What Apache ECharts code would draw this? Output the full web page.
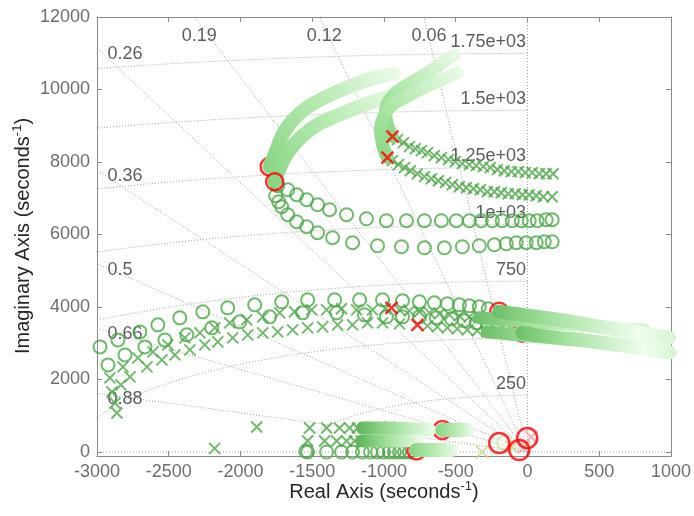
<!DOCTYPE html>
<html><head><meta charset="utf-8">
<script src="https://cdn.jsdelivr.net/npm/echarts@6/dist/echarts.min.js"></script>
<style>html,body{margin:0;padding:0;background:#fff}#c{width:694px;height:516px}</style>
</head><body><div id="c"></div>
<script>
// ---------- axes / grid annotations ----------
const xTicks = [-3000, -2500, -2000, -1500, -1000, -500, 0, 500, 1000];
const yTicks = [0, 2000, 4000, 6000, 8000, 10000, 12000];
const xTitle = ['Real Axis (seconds', '-1', ')'];
const yTitle = ['Imaginary Axis (seconds', '-1', ')'];
const dampingRatios = [0.06, 0.12, 0.19, 0.26, 0.36, 0.5, 0.66, 0.88];
const dampingLabels = ['0.06', '0.12', '0.19', '0.26', '0.36', '0.5', '0.66', '0.88'];
const freqHz = [250, 500, 750, 1000, 1250, 1500, 1750];
const freqLabels = ['250', '', '750', '1e+03', '1.25e+03', '1.5e+03', '1.75e+03'];

// ---------- upper branches ----------
const upperCircleRow1 = [[-1741,7347],[-1671,7236],[-1609,7098],[-1539,6960],[-1463,6822],[-1379,6684],[-1261,6546],[-1122,6435],[-983,6380],[-843,6380],[-718,6380],[-600,6380],[-496,6380],[-405,6380],[-322,6380],[-245,6380],[-176,6380],[-106,6380],[-43,6380],[12,6380],[68,6380],[130,6408],[172,6408]];
const upperCircleRow2 = [[-1755,7071],[-1734,6905],[-1713,6767],[-1671,6546],[-1609,6353],[-1539,6215],[-1463,6049],[-1358,5911],[-1219,5773],[-1045,5690],[-878,5662],[-718,5634],[-579,5634],[-454,5662],[-336,5690],[-231,5717],[-148,5745],[-78,5773],[-9,5773],[61,5773],[117,5800],[172,5800]];
const upperCircleTube1 = [[-1797,7872],[-1762,8203],[-1713,8700],[-1644,9115],[-1539,9501],[-1400,9805],[-1240,10081],[-1080,10302],[-927,10440]];
const upperCircleTube2 = [[-1762,7457],[-1741,7706],[-1671,8258],[-1574,8700],[-1463,9032],[-1310,9308],[-1136,9584],[-976,9805],[-892,9971]];
const upperCrossRow1 = [[-906,8617],[-864,8535],[-823,8424],[-781,8369],[-739,8314],[-697,8258],[-649,8176],[-600,8120],[-551,8065],[-503,8010],[-454,7955],[-405,7927],[-357,7899],[-308,7872],[-259,7844],[-210,7789],[-162,7761],[-113,7734],[-64,7734],[-16,7706],[33,7706],[82,7678],[130,7678],[179,7678]];
const upperCrossRow2 = [[-941,8037],[-899,7927],[-857,7844],[-816,7761],[-767,7678],[-718,7596],[-670,7540],[-621,7485],[-572,7430],[-524,7375],[-475,7319],[-426,7292],[-377,7264],[-329,7236],[-280,7181],[-231,7181],[-183,7154],[-134,7126],[-85,7126],[-36,7098],[12,7098],[61,7071],[110,7043],[172,7043]];
const upperCrossTube1 = [[-941,8700],[-976,9032],[-990,9363],[-969,9667],[-906,9943],[-809,10192],[-704,10440],[-600,10717],[-510,10965]];
const upperCrossTube2 = [[-976,8120],[-1010,8479],[-1024,8894],[-1003,9253],[-948,9557],[-857,9778],[-753,9998],[-614,10247],[-489,10468]];

// ---------- middle branches ----------
const midCircleRow1 = [[-2979,2900],[-2854,3093],[-2701,3314],[-2576,3508],[-2423,3701],[-2263,3867],[-2089,3977],[-1901,4060],[-1713,4143],[-1532,4198],[-1344,4198],[-1170,4198],[-1010,4198],[-871,4171],[-753,4143],[-649,4115],[-558,4088],[-475,4060],[-405,4033],[-336,4005],[-273,3950]];
const midCircleRow2 = [[-2923,2403],[-2805,2679],[-2666,2900],[-2527,3093],[-2374,3232],[-2200,3425],[-2005,3591],[-1797,3729],[-1567,3839],[-1330,3839],[-1136,3784],[-983,3729],[-871,3729],[-753,3729],[-635,3701],[-530,3673],[-440,3618],[-357,3563],[-280,3480],[-210,3425],[-148,3370],[-92,3342]];
const midCircleTube1 = [[-197,3867],[12,3756],[221,3646],[430,3508],[638,3370],[812,3259],[986,3149]];
const midCircleTube2 = [[-36,3287],[151,3176],[360,3093],[569,2983],[777,2872],[990,2750]];
const midCrossRow1 = [[-2910,2044],[-2819,2348],[-2715,2596],[-2610,2762],[-2506,2955],[-2388,3149],[-2283,3287],[-2179,3425],[-2075,3563],[-1957,3646],[-1845,3729],[-1727,3839],[-1623,3867],[-1504,3922],[-1400,3922],[-1296,3950],[-1191,3922],[-1080,3922],[-990,3950],[-892,3922],[-823,3894],[-753,3867],[-683,3839],[-614,3811],[-544,3784],[-475,3756],[-405,3729],[-336,3701]];
const midCrossRow2 = [[-2861,1077],[-2875,1353],[-2896,1657],[-2833,1851],[-2770,2072],[-2652,2348],[-2548,2541],[-2457,2679],[-2353,2817],[-2249,2955],[-2158,3038],[-2054,3149],[-1950,3232],[-1845,3287],[-1741,3314],[-1637,3370],[-1532,3425],[-1428,3453],[-1323,3508],[-1219,3508],[-1115,3563],[-1010,3563],[-892,3535],[-697,3480],[-628,3453],[-558,3425],[-489,3397],[-419,3370],[-350,3342],[-280,3314]];
const midCrossTube1 = [[-336,3701],[12,3591],[430,3480],[812,3370]];
const midCrossTube2 = [[-280,3314],[82,3176],[430,3066],[833,2928]];

// ---------- lower branches ----------
const lowCrossRow1 = [[-1518,663],[-1400,663],[-1310,663],[-1240,663],[-1184,663],[-1136,663],[-1094,663],[-1059,663],[-1024,663]];
const lowCrossRow2 = [[-1532,304],[-1414,304],[-1330,304],[-1261,304],[-1205,304],[-1157,304],[-1115,304],[-1080,304],[-1045,304]];
const lowCrossTube1 = [[-1150,663],[-962,663],[-823,636],[-683,608]];
const lowCrossTube2 = [[-1150,304],[-997,304],[-892,304],[-767,331]];
const lowCircleRow = [[-1545,20],[-1532,0],[-1400,0],[-1296,0],[-1219,0],[-1150,0],[-1094,0],[-1045,0],[-1003,0],[-962,0],[-927,0],[-892,0],[-857,0],[-823,0]];
const lowCircleTube1 = [[-593,608],[-419,608]];
const lowCircleTube2 = [[-774,55],[-683,55],[-600,55],[-530,55]];
const strayCrosses = [[-2180,100],[-1887,690]];

// ---------- highlighted (red) points ----------
const redCirclesUnder = [[-1797,7872],[-197,3867],[-36,3287],[-593,608],[-774,40]];
const redCirclesTop = [[-1762,7457]];
const redCrossesTop = [[-941,8700],[-976,8120],[-948,3977],[-767,3508]];
const redCrossesUnder = [[-962,663],[-997,304]];
const originRedCircles = [[-197,249],[-2,387],[-57,55]];
const originPaleCircles = [[-162,249]];
const originPaleCrosses = [[-315,0],[-106,138]];
const originPinkCrosses = [[26,414],[-22,138]];

// ---------- drawing ----------
const FONT = '"Liberation Sans", Arial, Helvetica, sans-serif';
const DARK = '#4ea848';
const RED = '#ff0000';
const CROSS = 'path://M0,0L10,10M10,0L0,10';
const AXIS_COL = '#8a8a8a';
const TICK_COL = '#6e6e6e';

function gridLine(data) {
  return {type: 'line', data, symbol: 'none', showSymbol: false, silent: true, z: 1,
    lineStyle: {color: '#a0a0a0', width: 1, type: [1, 2]}};
}
function circles(data, color, size, width, z) {
  return {type: 'scatter', data, symbol: 'circle', symbolSize: size, silent: true, clip: false, z,
    itemStyle: {color: 'rgba(0,0,0,0)', borderColor: color, borderWidth: width}};
}
function crosses(data, color, size, width, z) {
  return {type: 'scatter', data, symbol: CROSS, symbolSize: size, silent: true, clip: false, z,
    itemStyle: {color: 'rgba(0,0,0,0)', borderColor: color, borderWidth: width}};
}
function tube(data, stops, dir, z, w) {
  return {type: 'line', data, smooth: 0.35, symbol: 'none', showSymbol: false, silent: true, clip: false, z,
    lineStyle: {width: w || 14, cap: 'round', join: 'round',
      color: {type: 'linear', x: dir[0], y: dir[1], x2: dir[2], y2: dir[3], colorStops: stops}}};
}
const UP = [0, 1, 1, 0], RIGHT = [0, 0, 1, 0];
const lightStops = [{offset: 0, color: '#84d47f'}, {offset: 0.5, color: '#b6eab0'}, {offset: 1, color: '#eefcec'}];
const midStops = [{offset: 0, color: '#6cc067'}, {offset: 0.35, color: '#a9e4a3'}, {offset: 0.8, color: '#f0fdee'}, {offset: 1, color: '#d6f5d2'}];
const lowStops = [{offset: 0, color: '#5cb257'}, {offset: 0.45, color: '#9fe09a'}, {offset: 1, color: '#eefcec'}];

const series = [];
series.push(gridLine([[-3000, 0], [1000, 0]]));
series.push(gridLine([[0, 0], [0, 12000]]));
const rayLabelData = [];
dampingRatios.forEach((z, i) => {
  const s = Math.sqrt(1 - z * z);
  const yl = 3000 * s / z;
  const onLeft = yl <= 12000;
  const end = onLeft ? [-3000, yl] : [-12000 * z / s, 12000];
  series.push(gridLine([[0, 0], end]));
  rayLabelData.push({value: end, label: {formatter: dampingLabels[i],
    position: onLeft ? 'right' : 'bottom', offset: onLeft ? [5, 6] : [5, 5]}});
});
const freqLabelData = [];
freqHz.forEach((f, i) => {
  const r = 2 * Math.PI * f;
  const pts = [];
  for (let a = 90; a <= 180; a += 1) {
    const t = a * Math.PI / 180;
    pts.push([r * Math.cos(t), r * Math.sin(t)]);
  }
  series.push(gridLine(pts));
  if (freqLabels[i]) freqLabelData.push({value: [0, r], label: {formatter: freqLabels[i], position: 'left', offset: [4, -11]}});
});
const labelStyle = {show: true, color: '#333333', fontSize: 18, fontFamily: FONT};
series.push({type: 'scatter', data: rayLabelData, symbolSize: 1, itemStyle: {color: 'rgba(0,0,0,0)'}, label: labelStyle, silent: true, clip: false, z: 1});
series.push({type: 'scatter', data: freqLabelData, symbolSize: 1, itemStyle: {color: 'rgba(0,0,0,0)'}, label: labelStyle, silent: true, clip: false, z: 1});

// dark markers
[upperCircleRow1, upperCircleRow2, midCircleRow1, midCircleRow2, lowCircleRow].forEach(d => series.push(circles(d, DARK, 13, 2, 3)));
[upperCrossRow1, upperCrossRow2, midCrossRow1, midCrossRow2, lowCrossRow1, lowCrossRow2, strayCrosses].forEach(d => series.push(crosses(d, DARK, 11, 2, 3)));
// red under tubes
series.push(circles(redCirclesUnder, RED, 18, 2.5, 3));
series.push(crosses(redCrossesUnder, RED, 12, 2.5, 3));
// light tubes
series.push(tube(upperCircleTube1, lightStops, UP, 4));
series.push(tube(upperCircleTube2, lightStops, UP, 4));
series.push(tube(upperCrossTube1, lightStops, UP, 4, 13));
series.push(tube(upperCrossTube2, lightStops, UP, 4, 13));
series.push(tube(midCrossTube1, midStops, RIGHT, 4, 13));
series.push(tube(midCrossTube2, midStops, RIGHT, 4, 13));
series.push(tube(midCircleTube1, midStops, RIGHT, 4));
series.push(tube(midCircleTube2, midStops, RIGHT, 4));
series.push(tube(lowCrossTube1, lowStops, RIGHT, 4, 13));
series.push(tube(lowCrossTube2, lowStops, RIGHT, 4, 13));
series.push(tube(lowCircleTube1, lightStops, RIGHT, 4));
series.push(tube(lowCircleTube2, lightStops, RIGHT, 4));
// red on top
series.push(circles(redCirclesTop, RED, 17, 2.5, 5));
series.push(crosses(redCrossesTop, RED, 12, 2.5, 5));
// origin cluster
series.push(crosses(originPaleCrosses, '#c9d98f', 13, 2, 5));
series.push(circles(originPaleCircles, '#bfe8a8', 14, 2, 5));
series.push(crosses(originPinkCrosses, '#f3a0a0', 12, 2, 6));
series.push(circles(originRedCircles, RED, 20, 2.5, 6));

const axisLabelX = {color: TICK_COL, fontSize: 18, fontFamily: FONT, margin: 7, formatter: v => String(v)};
const axisLabelY = {color: TICK_COL, fontSize: 18, fontFamily: FONT, margin: 7,
  formatter: v => (yTicks.indexOf(v) >= 0 ? String(v) : '')};
const tickStyle = {show: true, inside: true, length: 5, lineStyle: {color: AXIS_COL}};
const lineStyleAxis = {show: true, onZero: false, lineStyle: {color: AXIS_COL, width: 1}};
const titleRich = {
  a: {fontSize: 20, fontFamily: FONT, fill: '#262626', lineHeight: 24},
  b: {fontSize: 13, fontFamily: FONT, fill: '#262626', verticalAlign: 'top'}
};
function titleText(parts) { return '{a|' + parts[0] + '}{b|' + parts[1] + '}{a|' + parts[2] + '}'; }

const option = {
  animation: false,
  backgroundColor: '#ffffff',
  grid: {left: 97, right: 22, top: 17, bottom: 60, containLabel: false},
  graphic: [
    {type: 'text', x: 384, y: 492, silent: true,
      style: {text: titleText(xTitle), rich: titleRich, align: 'center', verticalAlign: 'middle', fill: '#262626', font: '20px ' + FONT}},
    {type: 'text', x: 23, y: 236, rotation: Math.PI / 2, silent: true,
      style: {text: titleText(yTitle), rich: titleRich, align: 'center', verticalAlign: 'middle', fill: '#262626', font: '20px ' + FONT}}
  ],
  xAxis: [
    {type: 'value', min: xTicks[0], max: xTicks[xTicks.length - 1], interval: 500, position: 'bottom',
      axisLine: lineStyleAxis, axisTick: tickStyle, axisLabel: axisLabelX, splitLine: {show: false}},
    {type: 'value', min: xTicks[0], max: xTicks[xTicks.length - 1], interval: 500, position: 'top',
      axisLine: lineStyleAxis, axisTick: tickStyle, axisLabel: {show: false}, splitLine: {show: false}}
  ],
  yAxis: [
    {type: 'value', min: -110, max: yTicks[yTicks.length - 1], splitNumber: 6, position: 'left',
      axisLine: lineStyleAxis, axisTick: tickStyle, axisLabel: axisLabelY, splitLine: {show: false}},
    {type: 'value', min: -110, max: yTicks[yTicks.length - 1], splitNumber: 6, position: 'right',
      axisLine: lineStyleAxis, axisTick: tickStyle, axisLabel: {show: false}, splitLine: {show: false}}
  ],
  series
};
const chart = echarts.init(document.getElementById('c'));
chart.setOption(option);
</script>
</body></html>
